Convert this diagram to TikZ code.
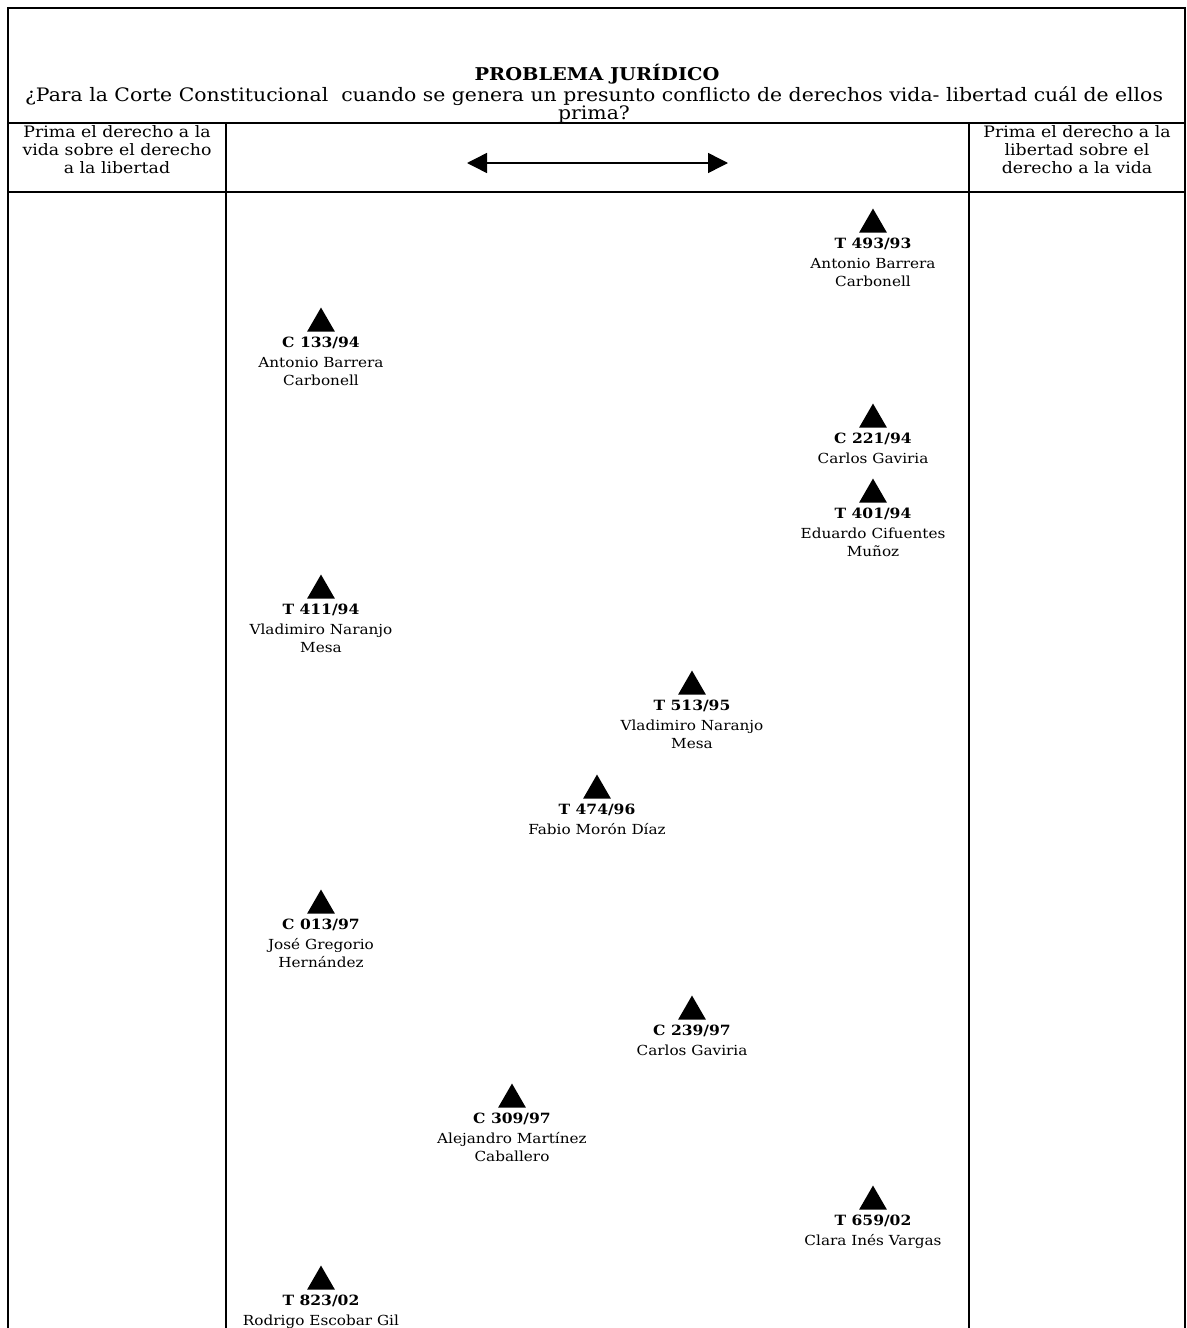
\documentclass[tikz,border=0pt]{standalone}
\usepackage{fontspec}
\setmainfont{DejaVu Serif}[FakeStretch=1.1]
\usetikzlibrary{shapes.geometric,arrows.meta}

\begin{document}
\lineskiplimit=-20pt
\begin{tikzpicture}[x=0.75pt,y=-0.75pt,
  linea/.style={line width=1.5pt},
  marca/.style={regular polygon,regular polygon sides=3,fill=black,inner sep=0pt,minimum size=24pt,anchor=corner 1},
  fallo/.style={align=center,anchor=north,inner sep=0pt,font=\fontsize{10.4}{13.5}\selectfont},
  celda/.style={align=center,inner sep=0pt,font=\fontsize{11.8}{13.5}\selectfont}]
\useasboundingbox (0,0) rectangle (1186,1328);

% marco de la tabla
\draw[linea](8,1328)--(8,8)--(1185,8)--(1185,1328);
\draw[linea](8,123)--(1185,123);
\draw[linea](8,192)--(1185,192);
\draw[linea](226,123)--(226,1328);
\draw[linea](969,123)--(969,1328);

% encabezado
\node[font=\fontsize{13.2}{14}\selectfont\bfseries](titulo) at(597,74){PROBLEMA JURÍDICO};
\node[celda,font=\fontsize{13.9}{13.5}\selectfont](pregunta) at(594,105.5)
  {¿Para la Corte Constitucional \ cuando se genera un presunto conflicto de derechos vida- libertad cuál de ellos\\prima?};
\node[celda](vida) at(117,150){Prima el derecho a la\\vida sobre el derecho\\a la libertad};
\node[celda](libertad) at(1077,150){Prima el derecho a la\\libertad sobre el\\derecho a la vida};

\coordinate(izq) at(467,163);
\coordinate(der) at(728,163);
\draw[line width=1.1pt,{Triangle[length=15pt,width=15pt]}-{Triangle[length=15pt,width=15pt]}](izq)--(der);

% sentencias
\foreach \nom/\px/\py/\cod/\juez in {
  t493/873/208/{T 493/93}/{Antonio Barrera\\Carbonell},
  c133/321/307/{C 133/94}/{Antonio Barrera\\Carbonell},
  c221/873/403/{C 221/94}/{Carlos Gaviria},
  t401/873/478/{T 401/94}/{Eduardo Cifuentes\\Muñoz},
  t411/321/574/{T 411/94}/{Vladimiro Naranjo\\Mesa},
  t513/692/670/{T 513/95}/{Vladimiro Naranjo\\Mesa},
  t474/597/774/{T 474/96}/{Fabio Morón Díaz},
  c013/321/889/{C 013/97}/{José Gregorio\\Hernández},
  c239/692/995/{C 239/97}/{Carlos Gaviria},
  c309/512/1083/{C 309/97}/{Alejandro Martínez\\Caballero},
  t659/873/1185/{T 659/02}/{Clara Inés Vargas},
  t823/321/1265/{T 823/02}/{Rodrigo Escobar Gil}}
{
  \node[marca](m\nom) at(\px,\py){};
  \node[fallo](f\nom) at([yshift=-3.5pt]m\nom.south)
    {{\fontsize{10.6}{13.5}\selectfont\bfseries \cod}\\[1.5pt]\juez};
}
\end{tikzpicture}
\end{document}
